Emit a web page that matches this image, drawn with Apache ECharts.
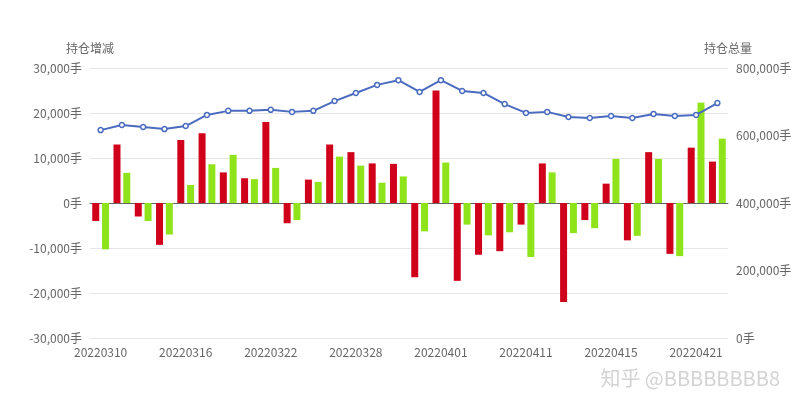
<!DOCTYPE html><html><head><meta charset="utf-8">
<script src="https://cdn.jsdelivr.net/npm/echarts@6/dist/echarts.min.js"></script>
<style>body{margin:0}#c{width:800px;height:400px}</style></head><body><div id="c"></div><script>
const categories=['20220310','20220311','20220314','20220315','20220316','20220317','20220318','20220321','20220322','20220323','20220324','20220325','20220328','20220329','20220330','20220331','20220401','20220406','20220407','20220408','20220411','20220412','20220413','20220414','20220415','20220418','20220419','20220420','20220421','20220422'];
const redVals=[-4000,13000,-3000,-9300,14000,15500,6800,5500,18000,-4500,5200,13000,11300,8800,8700,-16500,25000,-17300,-11500,-10700,-4800,8800,-22000,-3800,4300,-8300,11300,-11300,12300,9200];
const greenVals=[-10300,6700,-4000,-7000,4000,8600,10700,5300,7800,-3800,4700,10300,8300,4500,5900,-6300,9000,-4800,-7200,-6500,-12000,6800,-6700,-5600,9800,-7300,9800,-11800,22300,14300];
const totalVals=[616000,631000,625000,619000,628000,661000,673000,673000,676000,670000,673000,702000,726000,750000,764000,729000,764000,732000,726000,693000,667000,670000,655000,652000,658000,652000,664000,658000,661000,696000];
const ch=echarts.init(document.getElementById('c'));
const lbl={color:'#666',fontSize:12,fontFamily:'Noto Sans CJK SC'};
ch.setOption({animation:false,
grid:{left:90,right:72,top:68,bottom:62},
graphic:[{type:'text',right:20,bottom:12,style:{text:'知乎 @BBBBBBBB8',fill:'rgba(200,200,200,0.8)',font:'20px "Noto Sans CJK SC"'}}],
xAxis:{type:'category',data:categories,axisTick:{show:false},axisLine:{lineStyle:{color:'#666'}},axisLabel:Object.assign({interval:3},lbl)},
yAxis:[{type:'value',name:'持仓增减',min:-30000,max:30000,interval:10000,nameTextStyle:lbl,nameGap:14,nameLocation:'end',axisLabel:Object.assign({formatter:v=>v.toLocaleString('en-US')+'手'},lbl),splitLine:{lineStyle:{color:'#e6e6e6'}}},
{type:'value',name:'持仓总量',min:0,max:800000,interval:200000,nameTextStyle:lbl,nameGap:14,axisLabel:Object.assign({formatter:v=>v.toLocaleString('en-US')+'手'},lbl),splitLine:{show:false}}],
series:[{type:'bar',data:redVals,itemStyle:{color:'#d0021b'},barWidth:7,barGap:'40%'},
{type:'bar',data:greenVals,itemStyle:{color:'#8fe31a'},barWidth:7},
{type:'line',yAxisIndex:1,data:totalVals,symbol:'circle',symbolSize:5,itemStyle:{color:'#fff',borderColor:'#4a6bbf',borderWidth:1.5},lineStyle:{color:'#4a6bbf',width:2}}]});
</script></body></html>
